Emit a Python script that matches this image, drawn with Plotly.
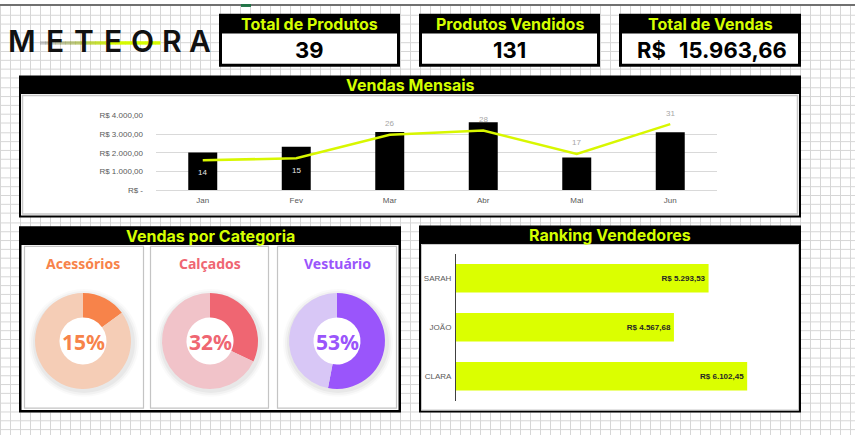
import plotly.graph_objects as go

# ---------------- data ----------------
months = ["Jan", "Fev", "Mar", "Abr", "Mai", "Jun"]
monthly_sales = [2015.40, 2325.80, 3118.20, 3641.50, 1748.30, 3114.46]
monthly_qty = [14, 15, 26, 28, 17, 31]

sales_ticks = [0, 1000, 2000, 3000, 4000]
sales_tick_labels = ["R$ -", "R$ 1.000,00", "R$ 2.000,00", "R$ 3.000,00", "R$ 4.000,00"]

categories = ["Acessórios", "Calçados", "Vestuário"]
category_share = [15, 32, 53]

sellers = ["CLARA", "JOÃO", "SARAH"]
seller_sales = [6102.45, 4567.68, 5293.53]

kpi_titles = ["Total de Produtos", "Produtos Vendidos", "Total de Vendas"]
kpi_values = ["39", "131", "15.963,66"]

# ---------------- helpers ----------------
W, H = 855, 440
def X(px): return px / W
def Y(py): return 1 - py / H

def brl(v):
    s = f"{v:,.2f}".replace(",", "#").replace(".", ",").replace("#", ".")
    return "R$ " + s

shapes = []
def rect(x0, y0, x1, y1, fill=None, line=None, lw=0):
    shapes.append(dict(type="rect", xref="paper", yref="paper",
                       x0=X(x0), x1=X(x1), y0=Y(y1), y1=Y(y0),
                       fillcolor=fill if fill else "rgba(0,0,0,0)",
                       line=dict(color=line if line else "rgba(0,0,0,0)", width=lw),
                       layer="below"))

def circle(cx, cy, r, fill):
    shapes.append(dict(type="circle", xref="paper", yref="paper",
                       x0=X(cx - r), x1=X(cx + r), y0=Y(cy + r), y1=Y(cy - r),
                       fillcolor=fill, line=dict(width=0), layer="below"))

# spreadsheet grid
parts = []
for k in range(0, 86):
    x = k * 10 + 0.5
    parts.append(f"M{X(x):.6f},{Y(0):.6f} L{X(x):.6f},{Y(H):.6f}")
k = 0
while True:
    y = round(11 + 9.2 * k) + 0.5
    if y > H:
        break
    parts.append(f"M{X(0):.6f},{Y(y):.6f} L{X(W):.6f},{Y(y):.6f}")
    k += 1
shapes.append(dict(type="path", xref="paper", yref="paper", path=" ".join(parts),
                   line=dict(color="#d6d6d6", width=1), layer="below"))

# top bar of the sheet
rect(0, 0, 855, 2, fill="#707070")
rect(241, 0, 251, 3, fill="#217346")

# KPI boxes
kpi_boxes = [(219, 400), (419, 600), (619, 801)]
for (x0, x1) in kpi_boxes:
    rect(x0, 10, x1, 64, fill="#000000")
    rect(x0 + 3, 30, x1 - 3, 61, fill="#ffffff")

# Vendas Mensais panel
rect(19, 73, 801, 218, fill="#000000")
rect(21, 92, 799, 216, fill="#ffffff")
rect(22.5, 93.5, 797.5, 214.5, line="#c8c8c8", lw=1.5)

# Vendas por Categoria panel
rect(19, 227, 401, 417, fill="#000000")
rect(21.5, 246, 398.5, 414.5, fill="#ffffff")
cards = [(24, 144), (150, 269), (277, 397)]
for (x0, x1) in cards:
    rect(x0 + 0.5, 247.5, x1 - 0.5, 412.5, line="#c4c4c4", lw=1.2)

# donut shadows + white holes
centers = [83, 210, 337]
for cx in centers:
    for rr, al in [(55, 0.02), (53, 0.03), (51, 0.04)]:
        circle(cx + 1, 346, rr, f"rgba(0,0,0,{al})")
    circle(cx, 344, 25, "#ffffff")

# Ranking panel
rect(419, 226, 801, 417, fill="#000000")
rect(421, 245, 799, 415, fill="#ffffff")
rect(421.5, 245.5, 798.5, 414.5, line="#c8c8c8", lw=1)

# logo streak (gradient)
n = 24
for i in range(n):
    x0 = 40 + i * 5
    t = min(1.0, i / 14)
    r = int(110 + (214 - 110) * t)
    g = int(110 + (250 - 110) * t)
    b = int(110 + (0 - 110) * t)
    a = 0.35 + 0.65 * t
    rect(x0, 38, x0 + 5.5, 41.5, fill=f"rgba({r},{g},{b},{a:.2f})")

fig = go.Figure()

# ---------------- Vendas Mensais ----------------
fig.add_trace(go.Bar(x=months, y=monthly_sales, xaxis="x", yaxis="y",
                     marker=dict(color="#000000", line=dict(width=0)),
                     width=0.31, hoverinfo="skip", showlegend=False))
fig.add_trace(go.Scatter(x=months, y=monthly_qty, xaxis="x", yaxis="y2",
                         mode="lines", line=dict(color="#d8f700", width=2.5),
                         hoverinfo="skip", showlegend=False))

annotations = []
for m, q in zip(months, monthly_qty):
    below = m in ("Jan", "Fev")
    annotations.append(dict(x=m, y=q, xref="x", yref="y2", text=str(q),
                            showarrow=False, yshift=-12 if below else 11,
                            xanchor="center", yanchor="middle",
                            font=dict(family="Liberation Sans", size=8,
                                      color="#e8e8e8" if below else "#a6a6a6")))

# ---------------- Ranking Vendedores ----------------
fig.add_trace(go.Bar(y=sellers, x=seller_sales, orientation="h",
                     xaxis="x3", yaxis="y3", width=0.58,
                     marker=dict(color="#dbff00", line=dict(width=0)),
                     text=[brl(v) for v in seller_sales],
                     textposition="inside", insidetextanchor="end",
                     textfont=dict(family="Liberation Sans", size=8, color="#262626",
                                   weight="bold"),
                     hoverinfo="skip", showlegend=False))

# ---------------- Donuts ----------------
main_colors = ["#f7834a", "#ef6672", "#9a55fb"]
light_colors = ["#f5cdb6", "#f1c3c9", "#d8c7f6"]
for cx, cat, share, mc, lc in zip(centers, categories, category_share, main_colors, light_colors):
    fig.add_trace(go.Pie(values=[share, 100 - share], labels=[cat, "resto"],
                         hole=0.49, sort=False, direction="clockwise", rotation=0,
                         marker=dict(colors=[mc, lc], line=dict(width=0)),
                         textinfo="none", hoverinfo="skip", showlegend=False,
                         domain=dict(x=[X(cx - 49), X(cx + 49)], y=[Y(393), Y(295)])))
    annotations.append(dict(x=X(cx), y=Y(265), xref="paper", yref="paper",
                            xanchor="center", yanchor="middle",
                            text=f"<b>{cat}</b>", showarrow=False,
                            font=dict(family="Noto Sans", size=14, color=mc)))
    annotations.append(dict(x=X(cx), y=Y(345), xref="paper", yref="paper",
                            xanchor="center", yanchor="middle",
                            text=f"<b>{share}%</b>", showarrow=False,
                            font=dict(family="Noto Sans", size=21, color=mc)))

# ---------------- headers / KPI text ----------------
hdr_font = dict(family="Inter", size=16, color="#d5ff00")
def paper_text(txt, px, py, font, xanchor="center"):
    annotations.append(dict(x=X(px), y=Y(py), xref="paper", yref="paper",
                            xanchor=xanchor, yanchor="middle",
                            text=txt, showarrow=False, font=font))

for (x0, x1), t in zip(kpi_boxes, kpi_titles):
    paper_text(f"<b>{t}</b>", (x0 + x1) / 2, 20, hdr_font)
val_font = dict(family="Inter", size=22, color="#000000")
paper_text(f"<b>{kpi_values[0]}</b>", 309.5, 47, val_font)
paper_text(f"<b>{kpi_values[1]}</b>", 509.5, 47, val_font)
paper_text("<b>R$</b>", 635, 47, val_font, xanchor="left")
paper_text(f"<b>{kpi_values[2]}</b>", 789, 47, val_font, xanchor="right")

for txt, cx, cy in [("Vendas Mensais", 410, 83), ("Vendas por Categoria", 210, 236.5),
                    ("Ranking Vendedores", 610, 235.5)]:
    paper_text(f"<b>{txt}</b>", cx, cy, hdr_font)

# logo letters
logo_letters = ["M", "E", "T", "E", "O", "R", "A"]
logo_x = [22, 54.5, 83.5, 112.5, 142.5, 171.5, 200]
for ch, lx in zip(logo_letters, logo_x):
    paper_text(ch, lx, 37.5, dict(family="Inter", size=30, color="#111111", weight=600))

fig.update_layout(
    width=W, height=H, margin=dict(l=0, r=0, t=0, b=0),
    paper_bgcolor="#ffffff", plot_bgcolor="rgba(0,0,0,0)",
    shapes=shapes, annotations=annotations,
    xaxis=dict(domain=[X(156), X(717)], anchor="y", showgrid=False, showline=False,
               zeroline=False, ticks="", ticklabelstandoff=4,
               tickfont=dict(family="Liberation Sans", size=8, color="#595959"),
               fixedrange=True),
    yaxis=dict(domain=[Y(190), Y(114)], anchor="x", range=[0, 4000],
               tickvals=sales_ticks, ticktext=sales_tick_labels,
               showgrid=True, gridcolor="#d9d9d9", gridwidth=1,
               zeroline=True, zerolinecolor="#d9d9d9", zerolinewidth=1,
               ticks="", ticklabelstandoff=12,
               tickfont=dict(family="Liberation Sans", size=8, color="#595959"),
               fixedrange=True),
    yaxis2=dict(overlaying="y", side="right", range=[0, 35], visible=False,
                fixedrange=True),
    xaxis3=dict(domain=[X(456), X(790)], anchor="y3", range=[0, 7000], visible=False,
                fixedrange=True),
    yaxis3=dict(domain=[Y(405), Y(255)], anchor="x3", showline=True,
                linecolor="#404040", linewidth=1, showgrid=False, zeroline=False,
                ticks="", ticklabelstandoff=2,
                tickfont=dict(family="Liberation Sans", size=8, color="#595959"),
                fixedrange=True),
)

fig.write_html("out.html", config={"displayModeBar": False},
               post_script="document.body.style.margin='0';document.body.style.padding='0';")
